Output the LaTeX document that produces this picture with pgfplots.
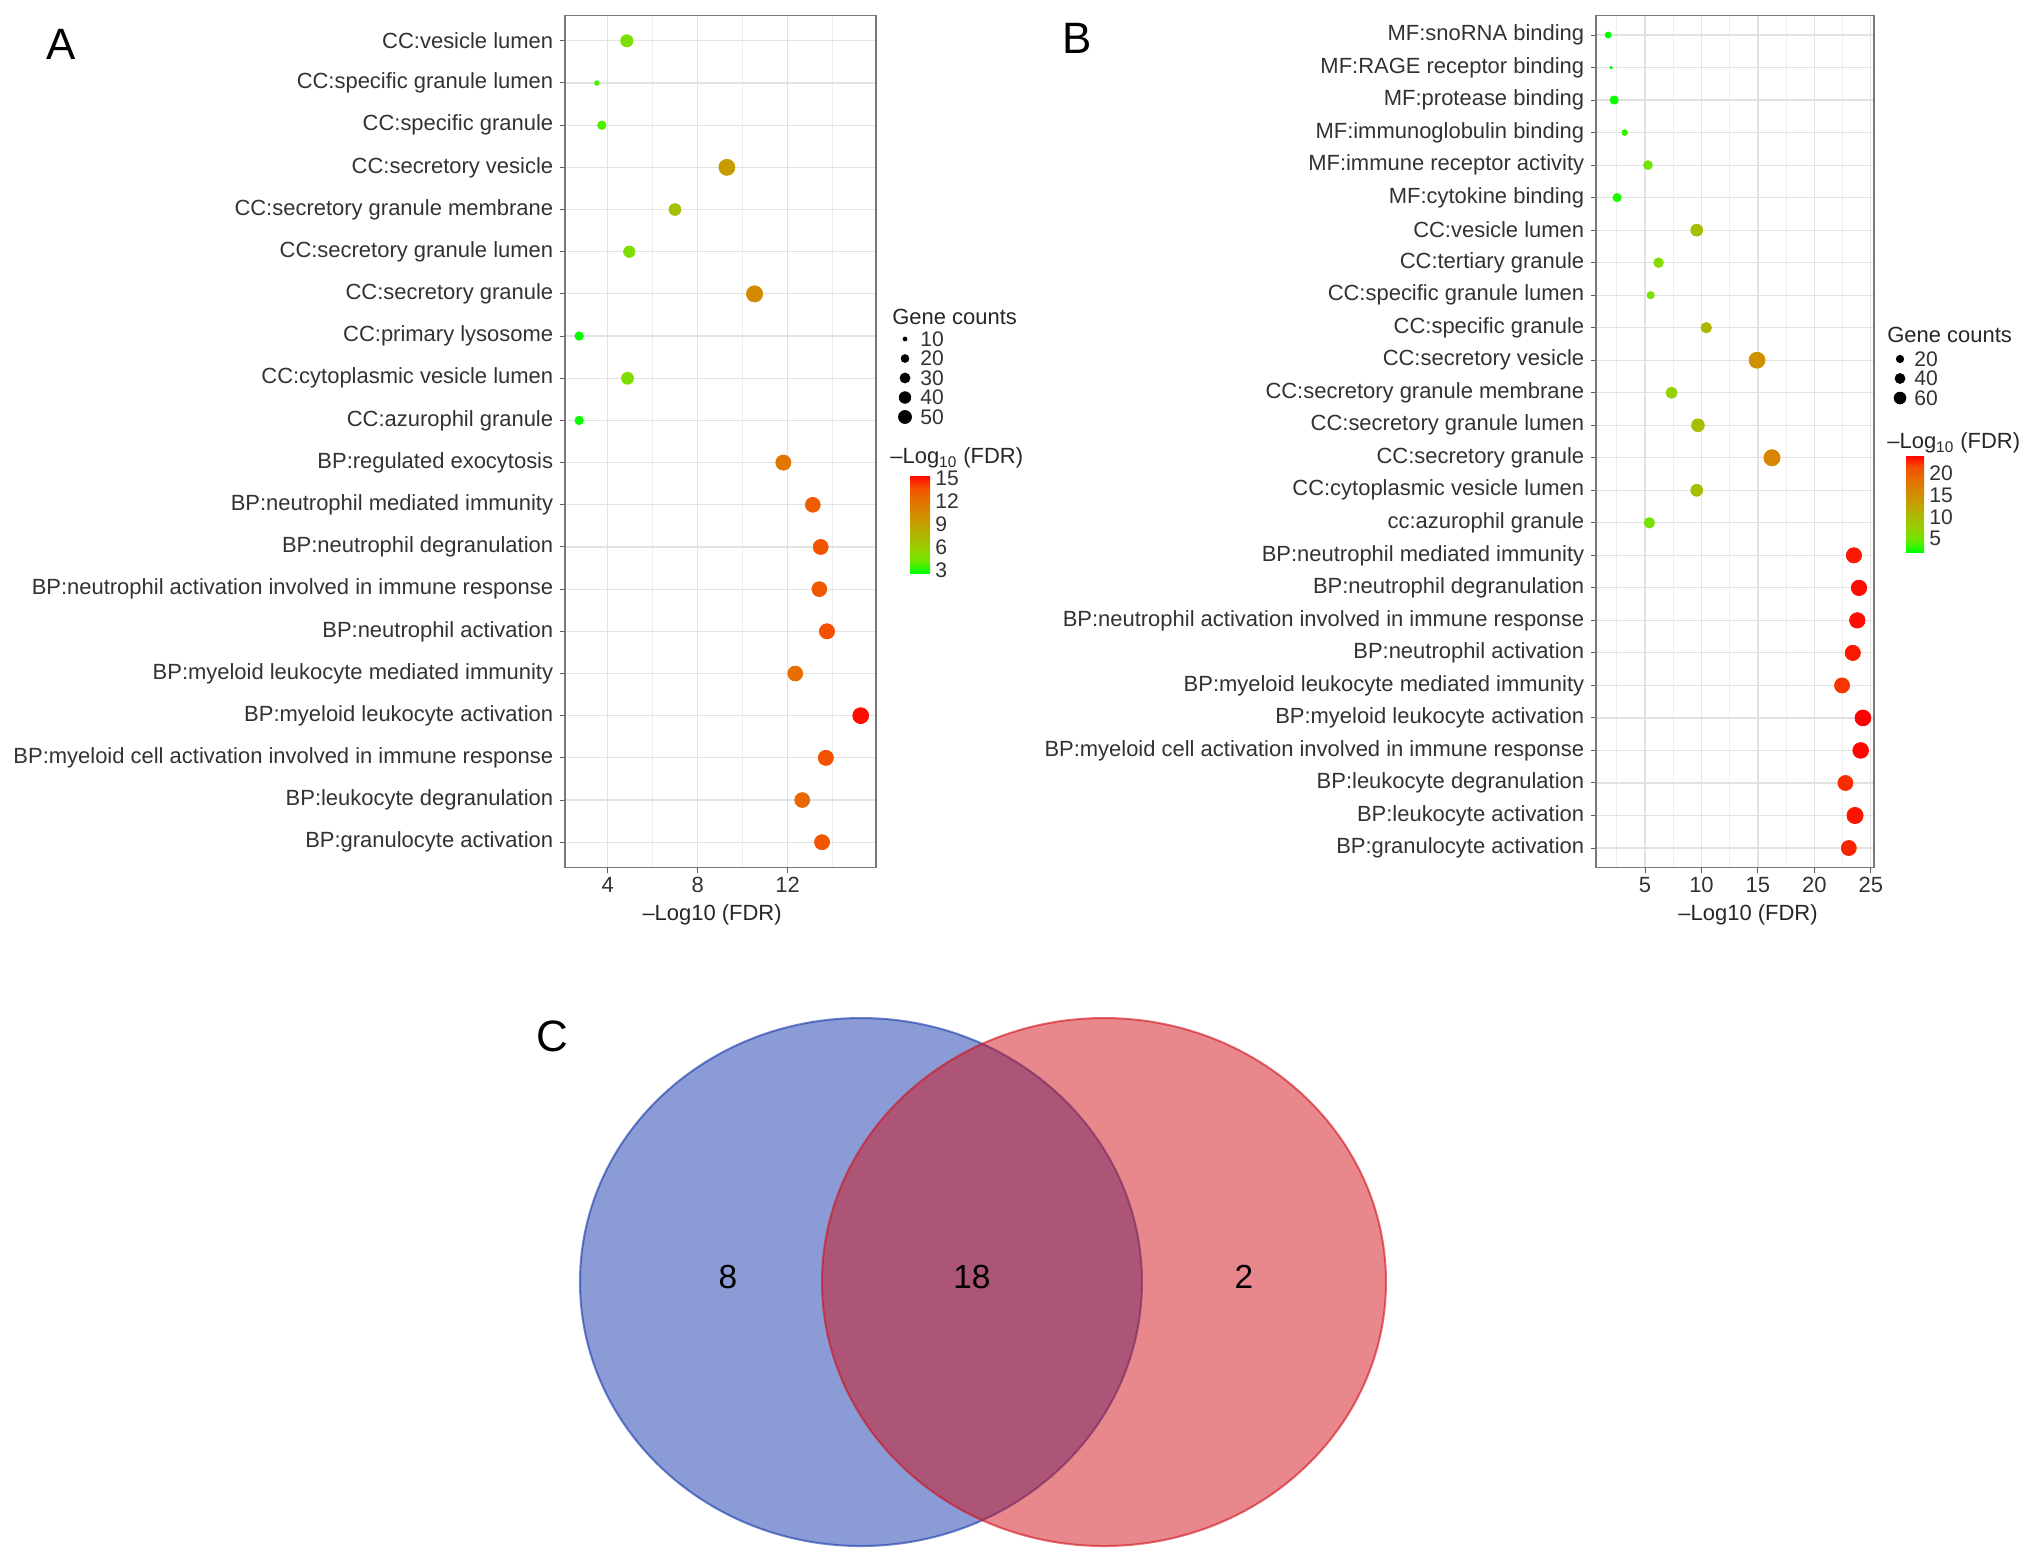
\documentclass[border=0pt]{standalone}
\usepackage{fontspec}
\setmainfont{Liberation Sans}
\usepackage{pgfplots}
\usepackage{pgfplotstable}
\pgfplotsset{compat=1.18}

\definecolor{frame}{RGB}{120,120,120}
\definecolor{gridmaj}{RGB}{226,226,226}
\definecolor{gridmin}{RGB}{238,238,238}
\definecolor{tickc}{RGB}{90,90,90}
\definecolor{labc}{RGB}{50,50,50}
\definecolor{vennblue}{RGB}{21,55,171}
\definecolor{vennred}{RGB}{209,17,25}

\newcommand{\lblfont}{\fontsize{12.5}{15}\selectfont}
\newcommand{\legfont}{\fontsize{12}{14}\selectfont}

% panel A: row, -log10(FDR), gene count
\pgfplotstableread{
row fdr n
0  4.85 33
1  3.52 10
2  3.74 18
3  9.30 56
4  6.99 31
5  4.96 29
6  10.53 57
7  2.73 18
8  4.88 32
9  2.73 18
10 11.81 50
11 13.12 48
12 13.47 49
13 13.41 48
14 13.75 50
15 12.34 48
16 15.25 55
17 13.70 50
18 12.65 48
19 13.53 49
}\dataA

% panel B: row, -log10(FDR), gene count
\pgfplotstableread{
row fdr n
0  1.74 8
1  2.00 3
2  2.27 16
3  3.20 7
4  5.26 19
5  2.53 16
6  9.58 38
7  6.20 23
8  5.50 12
9  10.43 28
10 14.92 76
11 7.35 33
12 9.69 45
13 16.24 78
14 9.58 38
15 5.38 28
16 23.50 68
17 23.95 70
18 23.80 70
19 23.40 68
20 22.45 66
21 24.30 74
22 24.10 73
23 22.75 66
24 23.60 78
25 23.05 66
}\dataB

\pgfplotsset{
  /pgf/number format/assume math mode=true,
  colormap={fdr}{rgb255=(0,255,0) rgb255=(109,232,0) rgb255=(150,208,0)
    rgb255=(172,184,0) rgb255=(196,160,0) rgb255=(214,136,0)
    rgb255=(230,110,0) rgb255=(244,78,0) rgb255=(255,0,0)},
  dotpanel/.style={
    scale only axis, y dir=reverse, clip=false,
    axis line style={draw=frame, line width=0.32mm},
    grid=both,
    major grid style={draw=gridmaj, line width=0.24mm},
    minor grid style={draw=gridmin, line width=0.16mm},
    tick align=outside, tick pos=left,
    major tick length=1mm, minor tick length=0pt,
    tick style={draw=tickc, line width=0.2mm},
    ticklabel style={font=\lblfont, text=labc},
    yticklabel style={inner xsep=1.3mm},
    xticklabel style={inner ysep=0.9mm},
    xlabel style={font=\lblfont, text=black!85, anchor=center},
    colormap name=fdr,
  },
  cbar/.style={
    at={(parent axis.north east)}, anchor=north west,
    scale only axis,
    axis line style={draw=none},
    major tick length=0pt,
    yticklabel style={font=\legfont, text=labc, inner xsep=1mm},
  },
  sizelegend/.style={
    scale only axis, hide axis, clip=false, y dir=reverse,
    width=1mm, xmin=0, xmax=1, ymin=0,
  },
}

\begin{document}
\begin{tikzpicture}

% panel C: Venn diagram, drawn in pixel units
\begin{axis}[at={(0mm,0mm)}, anchor=north west, scale only axis, hide axis,
  width=406.4mm, height=312mm, xmin=0, xmax=2032, ymin=0, ymax=1560,
  y dir=reverse, clip=false]
\draw[fill=vennblue, fill opacity=0.5, draw=vennblue, draw opacity=0.6, line width=0.4mm]
  (axis cs:861,1282) ellipse [x radius=56.2mm, y radius=52.8mm];
\draw[fill=vennred, fill opacity=0.5, draw=vennred, draw opacity=0.6, line width=0.4mm]
  (axis cs:1104,1282) ellipse [x radius=56.4mm, y radius=52.8mm];
\node[font=\fontsize{19}{22}\selectfont] at (axis cs:728,1277) {8};
\node[font=\fontsize{19}{22}\selectfont] at (axis cs:972,1277) {18};
\node[font=\fontsize{19}{22}\selectfont] at (axis cs:1244,1277) {2};
\node[font=\fontsize{25}{30}\selectfont] at (axis cs:61,44) {A};
\node[font=\fontsize{25}{30}\selectfont] at (axis cs:1077,38) {B};
\node[font=\fontsize{25}{30}\selectfont] at (axis cs:552,1036) {C};
\end{axis}

% panel A
\begin{axis}[dotpanel,
  at={(113mm,-173.5mm)}, anchor=south west,
  width=62.2mm, height=170.4mm,
  xmin=2.1, xmax=15.93, ymin=-0.6, ymax=19.6,
  xtick={4,8,12}, minor xtick={6,10,14},
  ytick={0,...,19},
  yticklabels={CC:vesicle lumen, CC:specific granule lumen, CC:specific granule,
    CC:secretory vesicle, CC:secretory granule membrane, CC:secretory granule lumen,
    CC:secretory granule, CC:primary lysosome, CC:cytoplasmic vesicle lumen,
    CC:azurophil granule, BP:regulated exocytosis, BP:neutrophil mediated immunity,
    BP:neutrophil degranulation, BP:neutrophil activation involved in immune response,
    BP:neutrophil activation, BP:myeloid leukocyte mediated immunity,
    BP:myeloid leukocyte activation, BP:myeloid cell activation involved in immune response,
    BP:leukocyte degranulation, BP:granulocyte activation},
  xlabel={\textendash Log10 (FDR)},
  xlabel style={at={(axis description cs:0.473,0)}, yshift=-9.5mm},
  point meta min=2.6, point meta max=15.5,
  colorbar,
  colorbar style={cbar, xshift=3.8mm, yshift=-91.9mm, width=4mm, height=19.6mm,
    ytick={3,6,9,12,15}},
]
\addplot[scatter, only marks, mark=*, point meta=explicit,
  scatter/use mapped color={draw=mapped color, fill=mapped color},
  visualization depends on={\thisrow{n} \as \genecnt},
  scatter/@pre marker code/.append style={/tikz/mark size={0.77*(1+5*sqrt((\genecnt-9)/48))}}]
  table[x=fdr, y=row, meta=fdr] {\dataA};
\end{axis}
\node[anchor=west, font=\lblfont, text=black!85, inner sep=0pt] at (178.4mm,-63.4mm) {Gene counts};
\node[anchor=west, font=\lblfont, text=black!85, inner sep=0pt] at (178mm,-91.6mm) {\textendash Log\textsubscript{10} (FDR)};
\begin{axis}[sizelegend, at={(181mm,-67.8mm)}, anchor=north west, height=15.6mm, ymax=4]
\addplot[scatter, only marks, mark=*, point meta=explicit,
  scatter/use mapped color={draw=black, fill=black},
  nodes near coords,
  nodes near coords style={anchor=west, xshift=3mm, font=\legfont, text=labc, inner sep=0pt},
  visualization depends on={\thisrow{n} \as \genecnt},
  scatter/@pre marker code/.append style={/tikz/mark size={0.66*(1+5*sqrt((\genecnt-9)/48))}}]
  table[x=x, y=y, meta=n] {
x y n
0 0 10
0 1 20
0 2 30
0 3 40
0 4 50
};
\end{axis}

% panel B
\begin{axis}[dotpanel,
  at={(319.2mm,-173.5mm)}, anchor=south west,
  width=55.6mm, height=170.4mm,
  xmin=0.66, xmax=25.28, ymin=-0.6, ymax=25.6,
  xtick={5,10,15,20,25}, minor xtick={2.5,7.5,12.5,17.5,22.5},
  ytick={0,...,25},
  yticklabels={MF:snoRNA binding, MF:RAGE receptor binding, MF:protease binding,
    MF:immunoglobulin binding, MF:immune receptor activity, MF:cytokine binding,
    CC:vesicle lumen, CC:tertiary granule, CC:specific granule lumen,
    CC:specific granule, CC:secretory vesicle, CC:secretory granule membrane,
    CC:secretory granule lumen, CC:secretory granule, CC:cytoplasmic vesicle lumen,
    cc:azurophil granule, BP:neutrophil mediated immunity, BP:neutrophil degranulation,
    BP:neutrophil activation involved in immune response, BP:neutrophil activation,
    BP:myeloid leukocyte mediated immunity, BP:myeloid leukocyte activation,
    BP:myeloid cell activation involved in immune response, BP:leukocyte degranulation,
    BP:leukocyte activation, BP:granulocyte activation},
  xlabel={\textendash Log10 (FDR)},
  xlabel style={at={(axis description cs:0.547,0)}, yshift=-9.5mm},
  point meta min=1.9, point meta max=24.3,
  colorbar,
  colorbar style={cbar, xshift=3.4mm, yshift=-87.9mm, width=3.6mm, height=19.4mm,
    ytick={5,10,15,20}},
]
\addplot[scatter, only marks, mark=*, point meta=explicit,
  scatter/use mapped color={draw=mapped color, fill=mapped color},
  visualization depends on={\thisrow{n} \as \genecnt},
  scatter/@pre marker code/.append style={/tikz/mark size={0.77*(1+5*sqrt((\genecnt-3)/75))}}]
  table[x=fdr, y=row, meta=fdr] {\dataB};
\end{axis}
\node[anchor=west, font=\lblfont, text=black!85, inner sep=0pt] at (377.4mm,-67mm) {Gene counts};
\node[anchor=west, font=\lblfont, text=black!85, inner sep=0pt] at (377.4mm,-88.6mm) {\textendash Log\textsubscript{10} (FDR)};
\begin{axis}[sizelegend, at={(380mm,-71.8mm)}, anchor=north west, height=7.8mm, ymax=2]
\addplot[scatter, only marks, mark=*, point meta=explicit,
  scatter/use mapped color={draw=black, fill=black},
  nodes near coords,
  nodes near coords style={anchor=west, xshift=2.8mm, font=\legfont, text=labc, inner sep=0pt},
  visualization depends on={\thisrow{n} \as \genecnt},
  scatter/@pre marker code/.append style={/tikz/mark size={0.63*(1+5*sqrt((\genecnt-3)/75))}}]
  table[x=x, y=y, meta=n] {
x y n
0 0 20
0 1 40
0 2 60
};
\end{axis}

\pgfresetboundingbox
\path[use as bounding box] (0mm,0mm) rectangle (406.4mm,-312mm);
\end{tikzpicture}
\end{document}
